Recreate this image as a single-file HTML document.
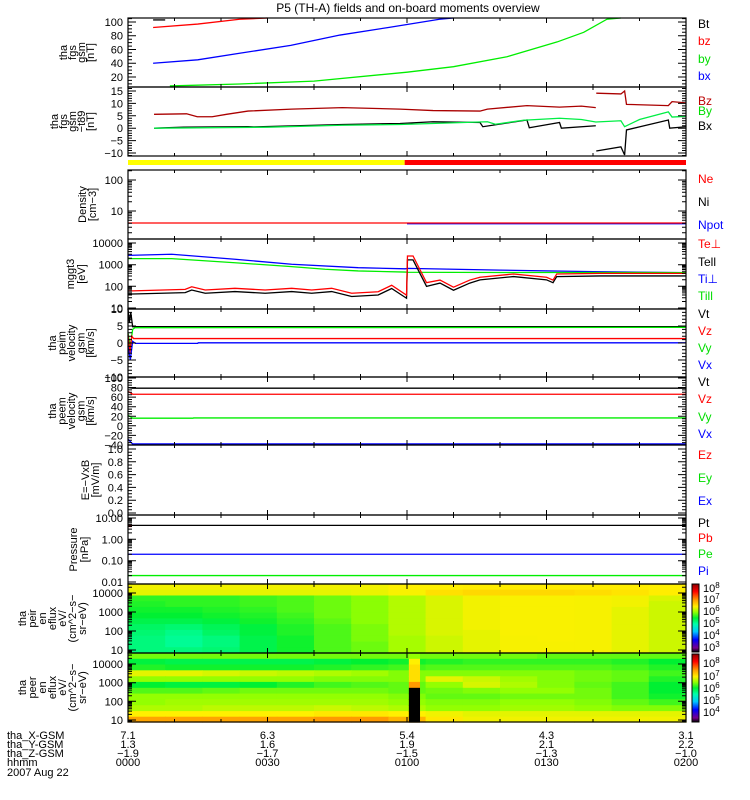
<!DOCTYPE html>
<html><head><meta charset="utf-8"><style>
html,body{margin:0;padding:0;background:#fff;}
svg{display:block;font-family:"Liberation Sans",sans-serif;}
</style></head><body>
<svg id="c" width="750" height="800" viewBox="0 0 750 800" xmlns="http://www.w3.org/2000/svg">
<rect x="0" y="0" width="750" height="800" fill="#fff"/>
</svg>
<script>
// ---------------- data ----------------
const timeTicks=[0,30,60,90,120];
const hhmmLabels=["0000","0030","0100","0130","0200"];
const xGsm=["7.1","6.3","5.4","4.3","3.1"];
const yGsm=["1.3","1.6","1.9","2.1","2.2"];
const zGsm=["-1.9","-1.7","-1.5","-1.3","-1.0"];

// panel 1 |B| components
const btT=[5.4,8];            const btV=[103,103];
const bzT=[5.4,15,24,30];      const bzV=[92,97,104,108];
const byT=[9,24,40,60,70,81.5,92.3,98,103,106]; const byV=[7,9.8,14,27,35,49.5,71,85,104,110];
const bxT=[5.4,15,24,35,45.6,56,67,70]; const bxV=[40,45,54.5,66,81,92,104,108];
// panel 2 B - t89
const dBzT=[5.6,12.6,14.9,18.1,21.2,25.8,35.2,46.1,58.5,65.6,75.7,77.3,85.8,92.8,97.5,100.6,100.6,100.7,106,106.8,107.2,116.2,117,120];
const dBzV=[5.6,5.8,4.6,4.6,5.6,6.9,7.7,8.3,7.7,7.1,6.9,7.7,9.1,8.5,8.9,8.3,null,14.1,13.8,15,9.6,9.1,10.7,10.2];
const dByT=[5.6,30,46,58.5,77.3,79,85,92.8,97.5,100.6,106,106.8,110,116.2,117,120];
const dByV=[0,0.4,1.2,1.5,2.6,1.6,3.2,4.0,3.5,2.5,3.0,0.6,3.5,6.6,4.5,4.8];
const dBxT=[5.6,12,25.8,27,46.1,58.5,65.6,75.7,76.3,85.8,86.3,92.8,93.2,100.6,100.6,100.7,106,106.8,107.2,116.2,116.5,120];
const dBxV=[0,0.4,0.6,0.5,1.5,1.9,2.6,2.3,0.6,3.3,0.2,2.3,0,1.0,null,-9.2,-7.5,-10.8,-0.7,3.3,0,0.6];
// density
const neT=[0,120]; const neV=[4.1,4.1];
const npotT=[60,120]; const npotV=[3.9,3.9];
// temperatures (log10 eV)
const tiPerpT=[0,9.4,23,35.2,49.5,59.6,60.2,80,100,120];
const tiPerpV=[3.43,3.48,3.25,3.02,2.86,2.81,2.83,2.75,2.68,2.63];
const tiParT=[0,9.4,23,35.2,42.4,49.5,59.6,60.2,80,100,120];
const tiParV=[3.28,3.28,3.09,2.91,2.79,2.71,2.66,2.65,2.64,2.64,2.63];
const tePerpT=[0,12.3,13.7,16.6,23,29.5,35.2,39.5,43.8,48.1,53.8,56.7,59.9,60.1,61.3,64.2,67.1,70,73.5,75.7,82.9,90,91.4,92.2,101.5,120];
const tePerpV=[1.785,1.86,1.98,1.83,1.91,1.83,1.91,1.83,1.91,1.68,1.75,2.05,1.59,3.40,3.40,2.17,2.29,1.96,2.29,2.42,2.57,2.42,2.29,2.57,2.60,2.60];
const teParT=[0,12.3,13.7,16.6,23,29.5,35.2,39.5,43.8,48.1,53.8,56.7,59.9,60.1,61.3,64.2,67.1,70,73.5,75.7,82.9,90,91.4,92.2,101.5,120];
const teParV=[1.64,1.71,1.83,1.68,1.76,1.68,1.76,1.68,1.76,1.53,1.60,1.90,1.45,3.22,3.22,2.00,2.15,1.82,2.15,2.30,2.45,2.30,2.17,2.45,2.48,2.48];
// peim velocity
const v1tT=[0,0.3,0.6,1,120]; const v1tV=[10,6,9,4.8,4.8];
const v1zT=[0,0.4,0.8,1.2,120]; const v1zV=[2.5,-3,2,1.3,1.3];
const v1yT=[0,0.5,1,1.5,120]; const v1yV=[3,-1,4,4.5,4.6];
const v1xT=[0,0.5,1,1.6,15,15.1,120]; const v1xV=[-1,-5,0.5,-0.1,-0.1,0.05,0.05];
// peem velocity
const v2tT=[0,1,120]; const v2tV=[80,78.6,78.6];
const v2zT=[0,1,120]; const v2zV=[72,66,66];
const v2yT=[0,1,14,14.1,120]; const v2yV=[22,16,16,16.5,16.5];
const v2xT=[0,1,120]; const v2xV=[-28,-37.8,-37.8];
// pressure
const ptT=[0,120]; const ptV=[4.5,4.5];
const pbT=[0,0.8]; const pbV=[4.0,4.0];
const peT=[0,120]; const peV=[0.2,0.2];
const piT=[0,120]; const piV=[0.02,0.02];
// spectrograms
const specTimes=[0,8,16,24,32,40,48,56,64,72,80,88,96,104,112,120];
const ionEnergyEdges=[29800,14900,7400,3700,1850,920,460,230,114,57,28,14,7];
const elecEnergyEdges=[38900,19000,9400,4600,2200,1100,530,260,130,62,30,15,7.8];
const ionFlux=[
[6.55,6.55,6.55,6.55,6.55,6.55,6.55,6.6,6.6,6.62,6.62,6.62,6.62,6.62,6.6],
[6.5,6.5,6.5,6.5,6.5,6.5,6.52,6.58,6.7,6.75,6.75,6.75,6.72,6.68,6.62],
[5.85,5.85,5.85,5.9,5.95,6.05,6.15,6.3,6.45,6.55,6.58,6.58,6.57,6.55,6.45],
[5.8,5.85,5.85,5.9,5.95,6.05,6.15,6.3,6.45,6.55,6.58,6.58,6.57,6.55,6.4],
[5.75,5.75,5.8,5.85,5.95,6.05,6.15,6.3,6.45,6.55,6.58,6.58,6.57,6.5,6.4],
[5.7,5.7,5.75,5.8,5.9,6.05,6.15,6.3,6.45,6.55,6.58,6.58,6.57,6.5,6.4],
[5.6,5.6,5.65,5.75,5.85,6.0,6.15,6.3,6.45,6.55,6.58,6.58,6.57,6.5,6.4],
[5.5,5.45,5.55,5.65,5.8,5.95,6.1,6.3,6.45,6.55,6.58,6.58,6.57,6.5,6.4],
[5.45,5.35,5.5,5.65,5.8,5.95,6.1,6.3,6.45,6.5,6.58,6.58,6.57,6.5,6.4],
[5.4,5.3,5.4,5.6,5.75,5.95,6.1,6.25,6.4,6.5,6.57,6.58,6.57,6.5,6.4],
[5.4,5.3,5.4,5.6,5.75,5.95,6.05,6.25,6.4,6.5,6.57,6.57,6.57,6.5,6.4],
[5.4,5.4,5.45,5.6,5.75,5.95,6.05,6.25,6.4,6.5,6.57,6.57,6.57,6.5,6.4]];
const elecFlux=[
[6.4,6.4,6.4,6.4,6.4,6.4,6.4,6.4,6.4,6.4,6.4,6.35,6.35,6.35,6.35],
[6.0,5.95,5.95,5.95,5.95,6.0,6.05,6.1,6.15,6.2,6.2,6.2,6.2,6.15,6.05],
[6.15,6.1,6.1,6.1,6.1,6.15,6.2,6.25,6.3,6.3,6.3,6.3,6.3,6.25,6.15],
[6.8,6.8,6.75,6.7,6.65,6.6,6.55,6.45,6.45,6.45,6.45,6.45,6.4,6.35,6.25],
[6.5,6.5,6.5,6.5,6.5,6.45,6.45,6.45,6.8,6.7,6.55,6.45,6.4,6.35,6.15],
[6.05,6.0,6.0,6.05,6.15,6.25,6.3,6.35,6.5,6.75,6.6,6.45,6.35,6.25,6.05],
[6.3,6.3,6.35,6.4,6.4,6.4,6.4,6.35,6.4,6.45,6.5,6.5,6.4,6.25,6.05],
[6.5,6.5,6.5,6.5,6.5,6.5,6.5,6.45,6.35,6.35,6.4,6.4,6.4,6.25,6.1],
[6.5,6.55,6.55,6.55,6.55,6.55,6.55,6.5,6.45,6.45,6.5,6.5,6.45,6.35,6.25],
[6.6,6.6,6.65,6.65,6.65,6.7,6.65,6.6,6.5,6.5,6.55,6.55,6.5,6.45,6.45],
[6.9,6.9,6.9,6.9,6.9,6.95,6.95,6.9,6.85,6.8,6.8,6.8,6.8,6.8,6.8],
[7.35,7.35,7.35,7.35,7.35,7.4,7.4,7.25,6.95,6.85,6.85,6.85,6.85,6.85,6.85]];
const elecStripTimes=[60.4,62.8];
const elecStripFlux=[6.5,6.9,7.0,7.0,7.0,7.4,0,0,0,0,0,0];
const modeTimes=[0,59.5,120];
const modeColors=["#ffff00","#ff0000"];

// ---------------- rendering ----------------
const svg=document.getElementById('c');
const NS='http://www.w3.org/2000/svg';
const X0=128,X1=686,TMAX=120;
function xs(t){return X0+t/TMAX*(X1-X0);}
function mk(tag,attrs,parent){const e=document.createElementNS(NS,tag);for(const k in attrs)e.setAttribute(k,attrs[k]);(parent||svg).appendChild(e);return e;}
function scale(p){return function(v){const u=p.log?Math.log10(v):v;return p.bot-(u-p.min)/(p.max-p.min)*(p.bot-p.top);};}
const P={
 b:{top:18,bot:87,min:5.45,max:105.8},
 db:{top:87,bot:156,min:-11.2,max:16.6},
 dens:{top:170,bot:239,min:0.097,max:2.323,log:true},
 temp:{top:239,bot:309,min:0.954,max:4.185,log:true},
 v1:{top:309,bot:377,min:-10,max:10},
 v2:{top:377,bot:445,min:-40,max:102},
 ef:{top:445,bot:515,min:-0.031,max:1.0625},
 pres:{top:515,bot:584,min:-2.094,max:1.14,log:true},
 ion:{top:584,bot:653,min:0.842,max:4.474,log:true},
 ele:{top:653,bot:722,min:0.893,max:4.59,log:true}};

const cstops=[[0,[0,0,0]],[0.06,[120,0,140]],[0.18,[0,0,255]],[0.3,[0,200,255]],[0.41,[0,255,170]],[0.5,[0,240,50]],[0.59,[150,255,0]],[0.667,[255,240,0]],[0.76,[255,160,0]],[0.89,[255,0,0]],[1,[140,0,0]]];
function cmap(n){n=Math.max(0,Math.min(1,n));for(let i=1;i<cstops.length;i++){if(n<=cstops[i][0]){const a=cstops[i-1],b=cstops[i];const f=(n-a[0])/(b[0]-a[0]);const c=a[1].map((v,j)=>Math.round(v+(b[1][j]-v)*f));return 'rgb('+c.join(',')+')';}}return 'rgb(140,0,0)';}

function drawSpec(p,edges,flux,zmin,zmax,name){
 const ys=scale(p);const g=mk('g',{});
 
 
 for(let r=0;r<flux.length;r++){
  const y0=ys(edges[r]),y1=ys(edges[r+1]);
  for(let c=0;c<flux[r].length;c++){
   const x0=xs(specTimes[c]),x1=xs(specTimes[c+1]);
   const cell=mk('rect',{x:x0.toFixed(2),y:y0.toFixed(2),width:(x1-x0+0.6).toFixed(2),height:(y1-y0+0.6).toFixed(2),fill:cmap((flux[r][c]-zmin)/(zmax-zmin))},g);
   
   
  }
 }
 return g;
}
drawSpec(P.ion,ionEnergyEdges,ionFlux,3.0,8.4,'ion-energy-spectrogram');
const eg=drawSpec(P.ele,elecEnergyEdges,elecFlux,3.5,8.6,'electron-energy-spectrogram');
{const ys=scale(P.ele);
 for(let r=0;r<elecStripFlux.length;r++){
  const y0=ys(elecEnergyEdges[r]),y1=ys(elecEnergyEdges[r+1]);
  const s=mk('rect',{x:xs(elecStripTimes[0]),y:y0,width:xs(elecStripTimes[1])-xs(elecStripTimes[0]),height:y1-y0+0.6,fill:elecStripFlux[r]>0?cmap((elecStripFlux[r]-3.5)/5.1):'#000'},eg);
  
  
 }}

// mode bar
for(let i=0;i<modeColors.length;i++){
 const m=mk('rect',{x:xs(modeTimes[i]),y:160,width:xs(modeTimes[i+1])-xs(modeTimes[i]),height:5,fill:modeColors[i]});
 
 
}

function line(p,T,V,color,name,logv){
 const ys=scale(p);let segs=[];let cur=[];
 for(let i=0;i<T.length;i++){
  if(V[i]===null){if(cur.length)segs.push(cur);cur=[];continue;}
  const v=logv?Math.pow(10,V[i]):V[i];
  let y=ys(v);y=Math.max(p.top,Math.min(p.bot,y));
  cur.push(xs(T[i]).toFixed(2)+','+y.toFixed(2));
 }
 if(cur.length)segs.push(cur);
 segs.forEach(s=>{
  const l=mk('polyline',{points:s.join(' '),fill:'none',stroke:color,'stroke-width':1.3});
  
  
 });
}
line(P.b,byT,byV,'#00ee00','by-line');
line(P.b,bxT,bxV,'#0000ff','bx-line');
line(P.b,bzT,bzV,'#ff0000','bz-line');
line(P.b,btT,btV,'#000','bt-line');
line(P.db,dBxT,dBxV,'#000','bx-t89-line');
line(P.db,dByT,dByV,'#00ee44','by-t89-line');
line(P.db,dBzT,dBzV,'#aa0000','bz-t89-line');
line(P.dens,npotT,npotV,'#0000ff','npot-line');
line(P.dens,neT,neV,'#ff0000','ne-line');
line(P.temp,tiPerpT,tiPerpV,'#0000ff','ti-perp-line',true);
line(P.temp,tiParT,tiParV,'#00ee00','ti-par-line',true);
line(P.temp,teParT,teParV,'#000','te-par-line',true);
line(P.temp,tePerpT,tePerpV,'#ff0000','te-perp-line',true);
line(P.v1,v1tT,v1tV,'#000','peim-vt-line');
line(P.v1,v1yT,v1yV,'#00ee00','peim-vy-line');
line(P.v1,v1zT,v1zV,'#ff0000','peim-vz-line');
line(P.v1,v1xT,v1xV,'#0000ff','peim-vx-line');
line(P.v2,v2tT,v2tV,'#000','peem-vt-line');
line(P.v2,v2zT,v2zV,'#ff0000','peem-vz-line');
line(P.v2,v2yT,v2yV,'#00ee00','peem-vy-line');
line(P.v2,v2xT,v2xV,'#0000ff','peem-vx-line');
line(P.pres,ptT,ptV,'#000','pt-line');
line(P.pres,pbT,pbV,'#ff0000','pb-line');
line(P.pres,peT,peV,'#0000ff','pe-line');
line(P.pres,piT,piV,'#00ee00','pi-line');

// frames, ticks, labels
function txt(x,y,s,o){const t=mk('text',{x:x,y:y,'font-size':(o&&o.fs)||11,fill:(o&&o.fill)||'#000','text-anchor':(o&&o.anchor)||'start'});if(o&&o.rot)t.setAttribute('transform','rotate(-90 '+x+' '+y+')');t.textContent=s;return t;}
function axis(p,name,major,labels,minor,ylines,yx,ysp){
 const ys=scale(p);
 const f=mk('rect',{x:X0,y:p.top,width:X1-X0,height:p.bot-p.top,fill:'none',stroke:'#000','stroke-width':1.2});
 
 
 let d='';
 minor.forEach(v=>{const y=ys(v);if(y<p.top-0.5||y>p.bot+0.5)return;d+='M'+X0+' '+y.toFixed(1)+'h4M'+X1+' '+y.toFixed(1)+'h-4';});
 major.forEach(v=>{const y=ys(v);d+='M'+X0+' '+y.toFixed(1)+'h8M'+X1+' '+y.toFixed(1)+'h-8';});
 for(let t=0;t<=TMAX;t+=10){const x=xs(t).toFixed(1);const L=(t%30===0)?5:3;d+='M'+x+' '+p.top+'v'+L+'M'+x+' '+p.bot+'v-'+L;}
 const tk=mk('path',{d:d,stroke:'#000','stroke-width':1,fill:'none'});
 
 
 major.forEach((v,i)=>{const t=txt(123,ys(v)+4,labels[i],{anchor:'end'});
  
  });
 const cy=(p.top+p.bot)/2;
 ylines.forEach((s,i)=>{const x=yx-(ylines.length-1-i)*ysp+4;const t=txt(x,cy,s,{anchor:'middle',rot:true});
  
  });
}
function rng(a,b,s){const r=[];for(let v=a;v<=b+1e-9;v+=s)r.push(+v.toFixed(4));return r;}
function logMinor(a,b){const r=[];for(let e=a;e<=b;e++)for(let k=1;k<10;k++)r.push(k*Math.pow(10,e));return r;}
axis(P.b,'bfield-panel',[20,40,60,80,100],['20','40','60','80','100'],rng(10,105,5),['tha','fgs','gsm','[nT]'],90,9);
axis(P.db,'bfield-t89-panel',[-10,-5,0,5,10,15],['\u221210','\u22125','0','5','10','15'],rng(-11,16,1),['tha','fgs','gsm','\u2212t89','[nT]'],90,9);
axis(P.dens,'density-panel',[10,100],['10','100'],logMinor(0,2),['Density','[cm\u22123]'],92,10);
axis(P.temp,'temperature-panel',[10,100,1000,10000],['10','100','1000','10000'],logMinor(0,4),['mggt3','[eV]'],81,11);
axis(P.v1,'peim-velocity-panel',[-10,-5,0,5,10],['\u221210','\u22125','0','5','10'],rng(-10,10,1),['tha','peim','velocity','gsm','[km/s]'],90,9.5);
axis(P.v2,'peem-velocity-panel',[-40,-20,0,20,40,60,80,100],['\u221240','\u221220','0','20','40','60','80','100'],rng(-40,100,5),['tha','peem','velocity','gsm','[km/s]'],90,9.5);
axis(P.ef,'efield-panel',[0,0.2,0.4,0.6,0.8,1.0],['0.0','0.2','0.4','0.6','0.8','1.0'],rng(0,1,0.05),['E=\u2212VxB','[mV/m]'],95,10);
axis(P.pres,'pressure-panel',[0.01,0.1,1,10],['0.01','0.10','1.00','10.00'],logMinor(-2,1),['Pressure','[nPa]'],84,11);
axis(P.ion,'ion-spectrogram-panel',[10,100,1000,10000],['10','100','1000','10000'],logMinor(0,4),['tha','peir','en','eflux','eV/','(cm^2\u2212s\u2212','sr\u2212eV)'],82,10);
axis(P.ele,'electron-spectrogram-panel',[10,100,1000,10000],['10','100','1000','10000'],logMinor(0,4),['tha','peer','en','eflux','eV/','(cm^2\u2212s\u2212','sr\u2212eV)'],82,10);

// title
const ti=txt(408,12,'P5 (TH-A) fields and on-board moments overview',{anchor:'middle',fs:12});



// legends
const legendNames=['Bt','bz','by','bx','Bz','By','Bx','Ne','Ni','Npot','Te\u22a5','Tell','Ti\u22a5','Till','Vt','Vz','Vy','Vx','Vt','Vz','Vy','Vx','Ez','Ey','Ex','Pt','Pb','Pe','Pi'];
const legendColors=['#000','#f00','#0d0','#00f','#b00','#0d0','#000','#f00','#000','#00f','#f00','#000','#00f','#0d0','#000','#f00','#0d0','#00f','#000','#f00','#0d0','#00f','#f00','#0d0','#00f','#000','#f00','#0d0','#00f'];
const legendY=[28,45,63,80,105,115,130,183,206,229,248,266,283,300,318,335,352,369,386,403,421,438,459,482,505,527,542,558,575];
legendNames.forEach((s,i)=>{const t=txt(698,legendY[i],s,{fill:legendColors[i],fs:12});
 
 });

// colorbars
const defs=mk('defs',{});
const gr=mk('linearGradient',{id:'cbg',x1:0,y1:1,x2:0,y2:0},defs);
cstops.forEach(s=>mk('stop',{offset:s[0],'stop-color':'rgb('+s[1].join(',')+')'},gr));
[[584,652,'ion-colorbar',[8,7,6,5,4,3],[588,599,611,623,635,647]],[654,722,'electron-colorbar',[8,7,6,5,4],[663,676,688,700,712]]].forEach(c=>{
 const r=mk('rect',{x:692,y:c[0],width:7,height:c[1]-c[0],fill:'url(#cbg)',stroke:'#000','stroke-width':1});
 
 
 c[3].forEach((e,i)=>{const t=mk('text',{x:703,y:c[4][i]+4,'font-size':11});t.innerHTML='10<tspan dy="-4" font-size="8">'+e+'</tspan>';
  
  });
});

// bottom ephemeris
const rowNames=['tha_X-GSM','tha_Y-GSM','tha_Z-GSM','hhmm'];
const rowVals=[xGsm,yGsm,zGsm,hhmmLabels];
const rowY=[739,748,757,766];
rowNames.forEach((n,i)=>{const t=txt(7,rowY[i],n,{});
 
 
 timeTicks.forEach((tt,j)=>{const v=txt(xs(tt),rowY[i],rowVals[i][j].replace('-','\u2212'),{anchor:'middle'});
  
  });
});
const dt=txt(7,776,'2007 Aug 22',{});


</script>
</body></html>
